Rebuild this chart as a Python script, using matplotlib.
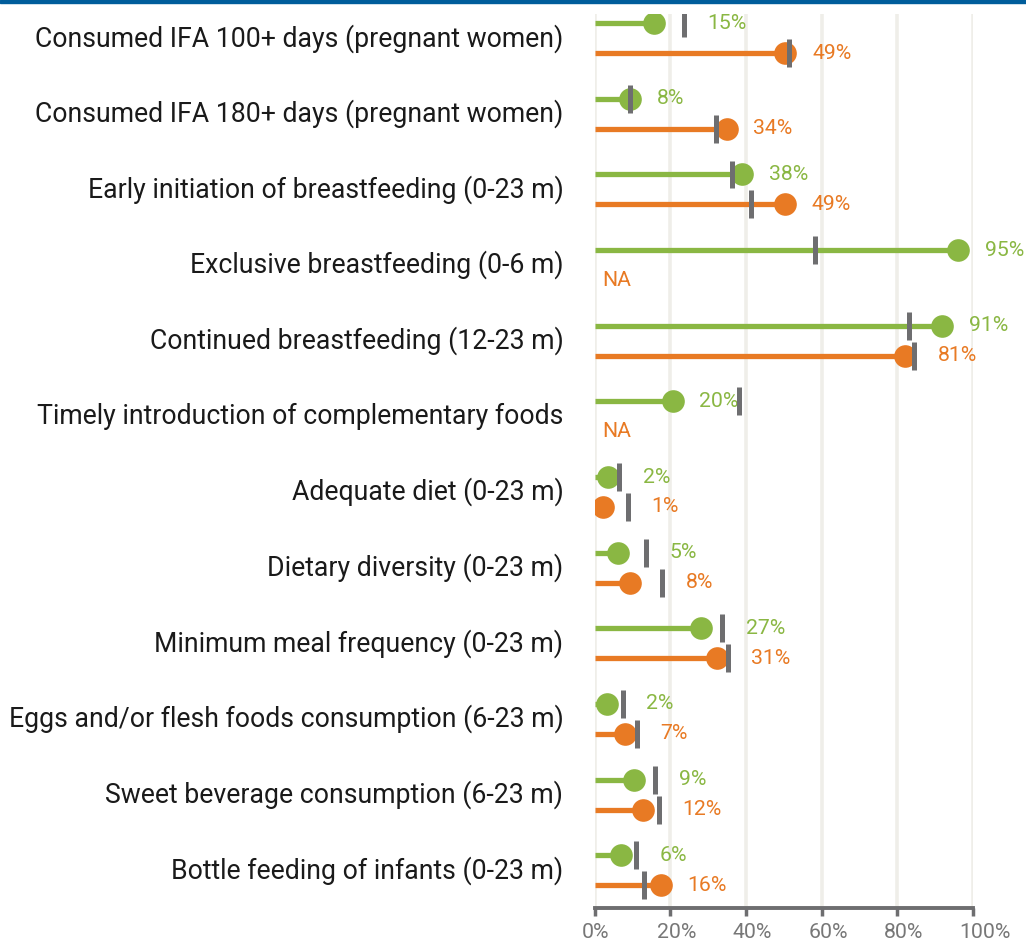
"""Lollipop chart: IYCF indicators, two survey rounds vs benchmark ticks."""
import numpy as np
import matplotlib
matplotlib.use("Agg")
import matplotlib.pyplot as plt
import matplotlib.transforms as mtransforms
from matplotlib.patches import Rectangle

plt.rcParams["font.family"] = ["Roboto", "DejaVu Sans"]

GREEN = "#8ab743"
ORANGE = "#e87a24"
BENCH = "#6e6e70"
GRID = "#efeee9"
AXIS = "#6e6e70"
TEXT = "#1a1a1a"
TOPBAR = "#005d9b"

CATEGORIES = [
    "Consumed IFA 100+ days (pregnant women)",
    "Consumed IFA 180+ days (pregnant women)",
    "Early initiation of breastfeeding (0-23 m)",
    "Exclusive breastfeeding (0-6 m)",
    "Continued breastfeeding (12-23 m)",
    "Timely introduction of complementary foods",
    "Adequate diet (0-23 m)",
    "Dietary diversity (0-23 m)",
    "Minimum meal frequency (0-23 m)",
    "Eggs and/or flesh foods consumption (6-23 m)",
    "Sweet beverage consumption (6-23 m)",
    "Bottle feeding of infants (0-23 m)",
]

# dot positions (NaN = NA)
green_vals = [15.7, 9.3, 39.0, 96.2, 91.9, 20.6, 3.6, 6.2, 28.0, 3.3, 10.4, 6.9]
orange_vals = [50.4, 34.9, 50.3, np.nan, 82.1, np.nan, 2.3, 9.3, 32.3, 8.0, 12.7, 17.5]
green_labels = ["15%", "8%", "38%", "95%", "91%", "20%", "2%", "5%", "27%", "2%", "9%", "6%"]
orange_labels = ["49%", "34%", "49%", "NA", "81%", "NA", "1%", "8%", "31%", "7%", "12%", "16%"]

# grey benchmark ticks
green_bench = [23.7, 9.3, 36.3, 58.4, 83.2, 38.3, 6.5, 13.6, 33.8, 7.4, 16.0, 10.9]
orange_bench = [51.5, 32.0, 41.3, np.nan, 84.5, np.nan, 8.7, 17.8, 35.2, 11.2, 17.0, 13.0]

XTICKS = [0, 20, 40, 60, 80, 100]


def label_x(val, bench, ignore_bench=False):
    if np.isnan(val):
        return 2.0
    x = val + 7.1
    if not ignore_bench and not np.isnan(bench):
        x = max(x, bench + 6.2)
    return x


def main():
    fig = plt.figure(figsize=(10.26, 9.46), dpi=100)
    ax = fig.add_axes([594.7 / 1026, 1 - 908 / 946, 378 / 1026, 894 / 946])
    fig.patches.append(Rectangle((0, 1 - 3.5 / 946), 1, 3.5 / 946,
                                 transform=fig.transFigure, color=TOPBAR))

    n = len(CATEGORIES)
    y = np.arange(n)
    off = 0.198

    for x in XTICKS:
        ax.axvline(x, color=GRID, lw=2.6, zorder=0)

    series = [
        (y - off, green_vals, green_bench, green_labels, GREEN),
        (y + off, orange_vals, orange_bench, orange_labels, ORANGE),
    ]
    for ys, vals, bench, labels, col in series:
        for i in range(n):
            v, b = vals[i], bench[i]
            if not np.isnan(v):
                ax.plot([0, v], [ys[i], ys[i]], color=col, lw=3.8,
                        solid_capstyle="butt", zorder=2)
                ax.plot(v, ys[i], "o", color=col, ms=16.3, mew=0, zorder=3)
            if not np.isnan(b):
                ax.vlines(b, ys[i] - 0.185, ys[i] + 0.185, color=BENCH,
                          lw=3.6, zorder=4)
            lx = label_x(v, b, ignore_bench=(labels[i] == "20%"))
            ax.text(lx, ys[i], labels[i], color=col, fontsize=15.3,
                    va="center", ha="left", clip_on=False)

    for i, cat in enumerate(CATEGORIES):
        ax.text(-8.3, y[i], cat, color=TEXT, fontsize=19.2, va="center",
                ha="right", clip_on=False)

    ax.set_xlim(0, 100)
    ax.set_ylim(11.5, -0.32)
    ax.set_yticks([])
    ax.set_xticks(XTICKS)
    ax.set_xticklabels([f"{t}%" for t in XTICKS], fontsize=15.3,
                       color="#777777")
    ax.tick_params(axis="x", length=6, width=2.5, color=AXIS, pad=5)
    shift = mtransforms.ScaledTranslation(-13 / 100, 0, fig.dpi_scale_trans)
    for lab in ax.get_xticklabels():
        lab.set_horizontalalignment("left")
        lab.set_transform(lab.get_transform() + shift)
    for s in ["top", "right", "left"]:
        ax.spines[s].set_visible(False)
    ax.spines["bottom"].set_color(AXIS)
    ax.spines["bottom"].set_linewidth(2.8)

    fig.savefig("out.png", dpi=100)
    plt.close(fig)


if __name__ == "__main__":
    main()
